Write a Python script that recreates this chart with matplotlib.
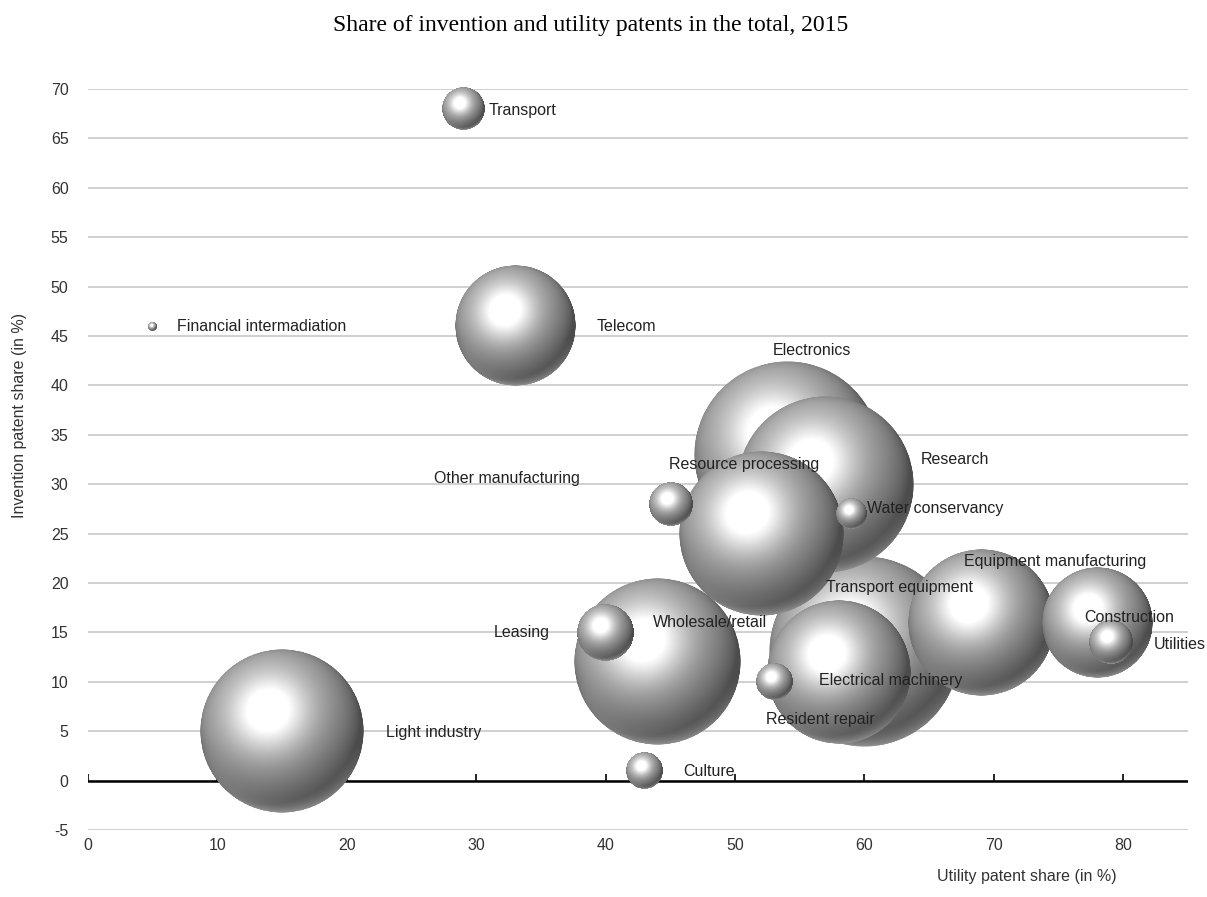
import numpy as np
import matplotlib
matplotlib.use("Agg")
import matplotlib.pyplot as plt
from matplotlib.offsetbox import OffsetImage, AnnotationBbox

plt.rcParams['font.family'] = ['Liberation Sans', 'DejaVu Sans']
plt.rcParams['axes.unicode_minus'] = False

# industries, utility share (x), invention share (y), relative bubble size
sectors = ['Transport equipment', 'Electronics', 'Research', 'Wholesale/retail',
           'Resource processing', 'Light industry', 'Equipment manufacturing',
           'Electrical machinery', 'Telecom', 'Construction', 'Leasing',
           'Other manufacturing', 'Utilities', 'Transport', 'Culture',
           'Resident repair', 'Water conservancy', 'Financial intermadiation']
utility_share = [60, 54, 57, 44, 52, 15, 69, 58, 33, 78, 40, 45, 79, 29, 43, 53, 59, 5]
invention_share = [13, 33, 30, 12, 25, 5, 16, 11, 46, 16, 15, 28, 14, 68, 1, 10, 27, 46]
bubble_size = [13.5, 12.9, 11.6, 10.3, 10.1, 10.0, 8.0, 7.7, 5.4, 4.5, 1.2, 0.7, 0.7, 0.66, 0.5, 0.5, 0.34, 0.03]

# label offsets (pixels from bubble centre) and horizontal alignment
label_dx = [-38, 25, 95, -4, -17, 104, -17, -20, 82, -13, -56, -90, 43, 25, 39, -8, 15, 24]
label_dy = [65, 104, 25, 40, 69, -1, 61, -9, 0, 5, 0, 25, -2, -2, -1, -38, 5, 0]
label_ha = ['left', 'center', 'left', 'left', 'center', 'left', 'left', 'left', 'left', 'left',
            'right', 'right', 'left', 'left', 'left', 'left', 'left', 'left']

xticks = list(range(0, 90, 10))
yticks = list(range(-5, 75, 5))


def sphere_image(n=400):
    yy, xx = np.mgrid[0:n, 0:n]
    c = (n - 1) / 2
    u = (xx - c) / c
    v = (c - yy) / c
    rr = u ** 2 + v ** 2
    z = np.sqrt(np.clip(1 - rr, 0, 1))
    L = np.array([-0.3, 0.45, 0.84])
    L = L / np.linalg.norm(L)
    diff = np.clip(u * L[0] + v * L[1] + z * L[2], 0, 1)
    H = L + np.array([0, 0, 1.0])
    H = H / np.linalg.norm(H)
    spec = np.clip(u * H[0] + v * H[1] + z * H[2], 0, 1) ** 10
    val = 0.30 + 0.45 * diff + 0.40 * spec
    rim = np.clip(-v - 0.2, 0, 1) * np.clip(rr, 0, 1) ** 4 * 0.35
    val = np.clip(val + rim, 0, 1)
    alpha = np.clip((1 - np.sqrt(rr)) * c, 0, 1)
    img = np.dstack([val, val, val, alpha])
    return img


fig = plt.figure(figsize=(12.07, 8.97), dpi=100)
ax = fig.add_axes([88 / 1207, 1 - 830 / 897, 1100 / 1207, 741 / 897])
ax.set_xlim(0, 85)
ax.set_ylim(-5, 70)

for s in ax.spines.values():
    s.set_visible(False)

ax.set_yticks(yticks)
ax.set_xticks(xticks)
ax.tick_params(axis='both', length=0, labelsize=11.5, colors='#333333')
ax.tick_params(axis='y', pad=14)
ax.tick_params(axis='x', pad=6)
ax.yaxis.grid(True, color='#cdcdcd', linewidth=1.3)
ax.set_axisbelow(True)
ax.axhline(0, color='black', linewidth=1.8, zorder=1)
ax.vlines(xticks, 0, 0.7, color='black', linewidth=1.2, zorder=1)

img = sphere_image()
px_per_size = 82 / np.sqrt(10.0)  # radius in pixels per sqrt(size)
for i, name in enumerate(sectors):
    r_px = px_per_size * np.sqrt(bubble_size[i])
    r_px = max(r_px, 4)
    zoom = 2 * r_px / (img.shape[0] * fig.dpi / 72)
    ab = AnnotationBbox(OffsetImage(img, zoom=zoom), (utility_share[i], invention_share[i]),
                        frameon=False, pad=0, zorder=3 + i * 0.01, annotation_clip=False)
    ax.add_artist(ab)

for i, name in enumerate(sectors):
    ax.annotate(name, (utility_share[i], invention_share[i]),
                xytext=(label_dx[i], label_dy[i]), textcoords='offset pixels',
                ha=label_ha[i], va='center', fontsize=11.5, color='#222222', zorder=10)

fig.text(591 / 1207, 1 - 26 / 897, 'Share of invention and utility patents in the total, 2015',
         ha='center', va='center', fontsize=17, family='Liberation Serif')
fig.text(1117 / 1207, 1 - 876 / 897, 'Utility patent share (in %)', ha='right', va='center',
         fontsize=11.5, color='#333333')
fig.text(20 / 1207, 1 - 415 / 897, 'Invention patent share (in %)', ha='center', va='center',
         rotation=90, fontsize=11.5, color='#333333')

fig.savefig('out.png', dpi=100)
